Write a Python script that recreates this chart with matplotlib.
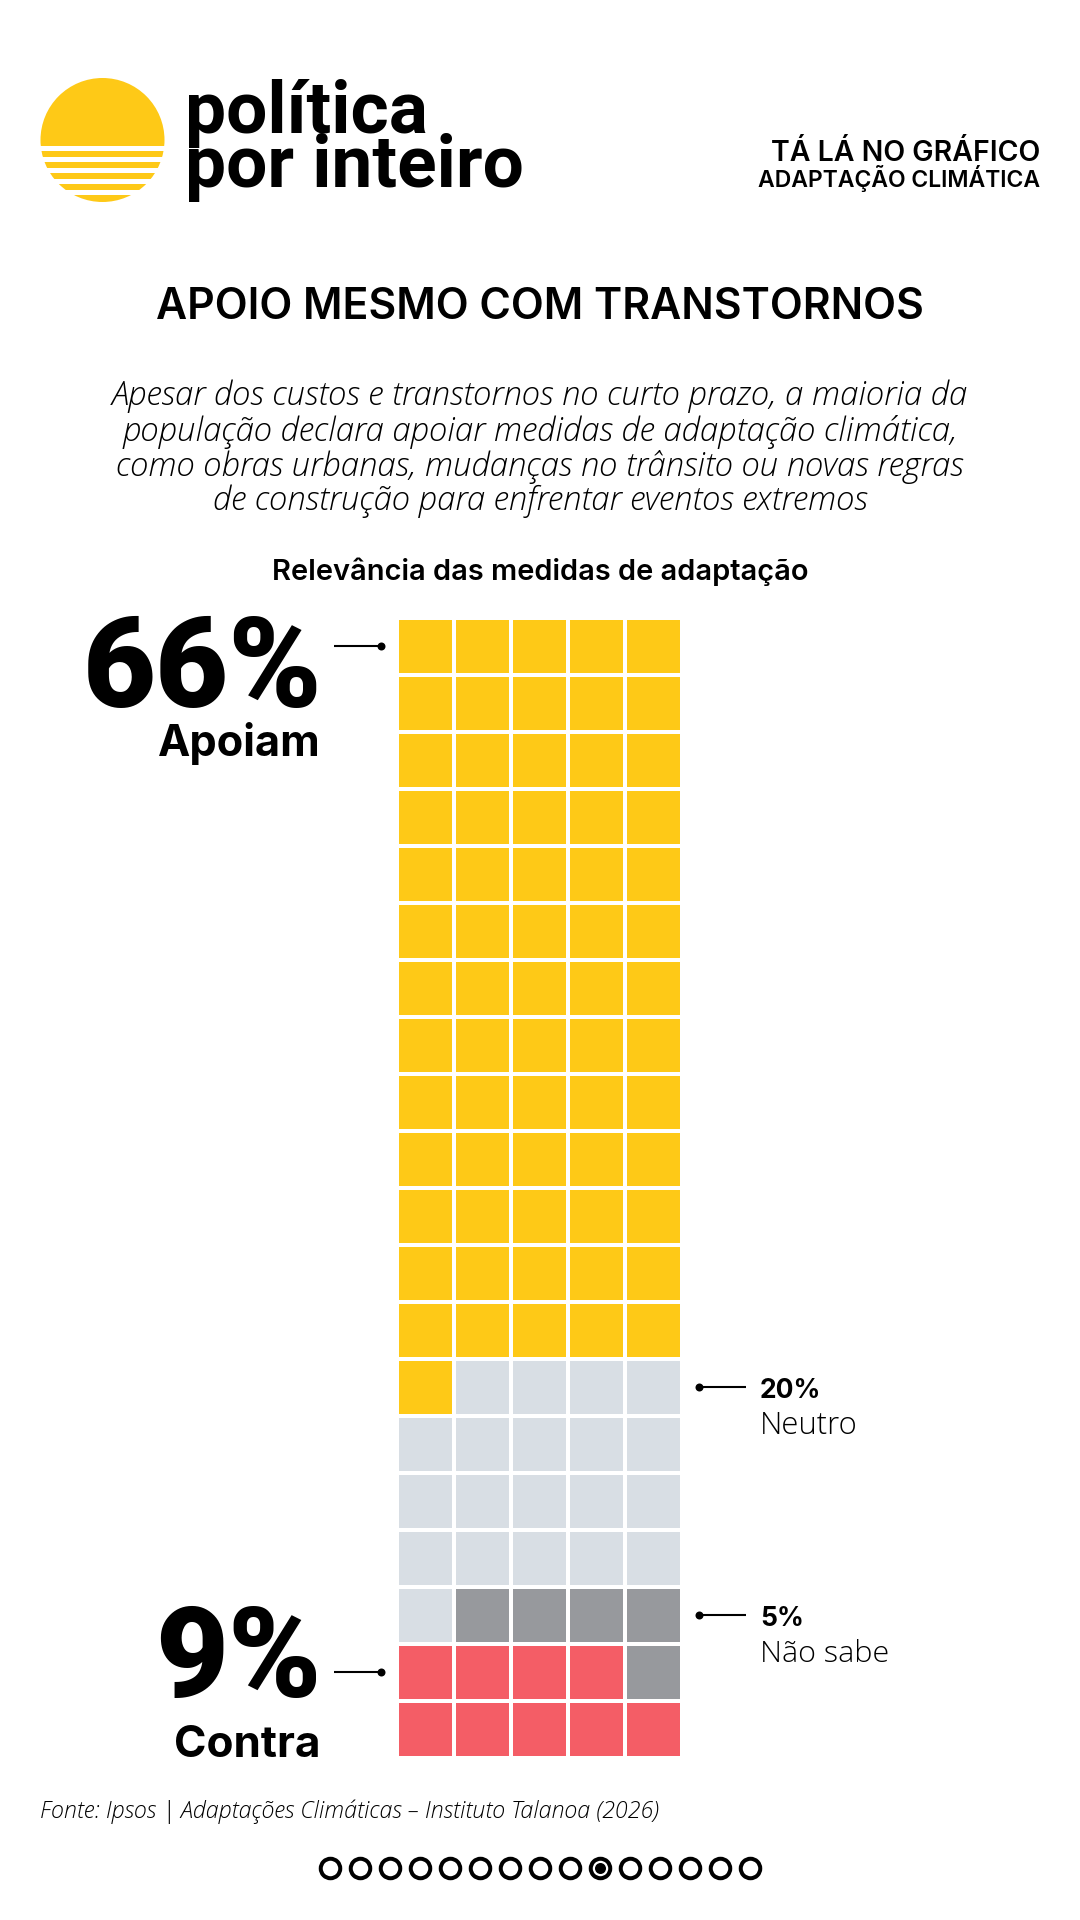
import matplotlib
matplotlib.use("Agg")
import matplotlib.pyplot as plt
from matplotlib.patches import Rectangle, Circle

# waffle data, 100 squares
categories = ["Apoiam", "Neutro", "Não sabe", "Contra"]
values = [66, 20, 5, 9]
colors = ["#FEC917", "#D8DEE4", "#97999D", "#F45D66"]
n_cols = 5
n_rows = 20

title = "APOIO MESMO COM TRANSTORNOS"
subtitle = ["Apesar dos custos e transtornos no curto prazo, a maioria da",
            "população declara apoiar medidas de adaptação climática,",
            "como obras urbanas, mudanças no trânsito ou novas regras",
            "de construção para enfrentar eventos extremos"]
chart_label = "Relevância das medidas de adaptação"
source = "Fonte: Ipsos | Adaptações Climáticas – Instituto Talanoa (2026)"
n_pages = 15
current_page = 9

W, H = 1080, 1920
pt = 0.72  # px to pt at dpi 100

fig = plt.figure(figsize=(W / 100, H / 100), dpi=100, facecolor="white")

# full page axes in pixel units, for the texts and logo
page = fig.add_axes([0, 0, 1, 1])
page.set_xlim(0, W)
page.set_ylim(H, 0)
page.axis("off")

# logo sun, cut at the horizon and striped below it
sun_x, sun_y, sun_r = 102.5, 140, 62
sun = Circle((sun_x, sun_y), sun_r, fc="none", ec="none")
page.add_patch(sun)
bands = [(70, 145.7), (150.7, 156.7), (161.7, 167.7), (172.7, 178.9), (183.9, 190), (195, 203)]
for top, bottom in bands:
    r = Rectangle((30, top), 150, bottom - top, fc=colors[0], ec="none")
    page.add_patch(r)
    r.set_clip_path(sun)

head = "Roboto"
page.text(185, 132.5, "política", family=head, weight="bold", size=73 * pt, color="black")
page.text(185, 187, "por inteiro", family=head, weight="bold", size=73 * pt, color="black")

page.text(1040, 161, "TÁ LÁ NO GRÁFICO", family="Inter", weight="semibold", size=28.5 * pt, ha="right", color="black")
page.text(1040, 187.5, "ADAPTAÇÃO CLIMÁTICA", family="Inter", weight="semibold", size=23 * pt, ha="right", color="black")

page.text(540, 319, title, family="Inter", weight="semibold", size=42.8 * pt, ha="center", color="black")

for line, y in zip(subtitle, [405, 441, 476, 510]):
    page.text(540, y, line, family="Open Sans", weight="light", style="italic", size=33 * pt, ha="center", color="black")

page.text(540, 579.5, chart_label, family="Inter", weight="semibold", size=29 * pt, ha="center", color="black")

# big labels on the left
big = "Roboto"
page.text(322, 707, f"{values[0]}%", family=big, weight="black", size=126 * pt, ha="right", color="black")
page.text(321, 756, categories[0], family="Inter", weight="bold", size=43.3 * pt, ha="right", color="black")
page.text(322, 1697, f"{values[3]}%", family=big, weight="black", size=126 * pt, ha="right", color="black")
page.text(320, 1757, categories[3], family="Inter", weight="bold", size=44 * pt, ha="right", color="black")

# small labels on the right
page.text(760, 1398, f"{values[1]}%", family="Inter", weight="bold", size=26.5 * pt, color="black")
page.text(760, 1433.5, categories[1], family="Open Sans", weight="light", size=31 * pt, color="black")
page.text(760, 1626, f"{values[2]}%", family="Inter", weight="bold", size=26.5 * pt, color="black")
page.text(760, 1661.5, categories[2], family="Open Sans", weight="light", size=30.5 * pt, color="black")

# leader lines
for x0, x1, y in [(334, 381, 646), (334, 381, 1672), (746, 699, 1387), (746, 699, 1615)]:
    page.plot([x0, x1], [y, y], color="black", lw=1.5, solid_capstyle="butt")
    page.plot([x1], [y], "o", color="black", ms=8 * pt, mew=0)

page.text(40, 1818, source, family="Open Sans", weight="light", style="italic", size=23.2 * pt, color="black")

# page dots
for i in range(n_pages):
    x = 330 + i * 30
    page.plot([x], [1867.7], "o", mfc="white", mec="black", mew=4 * pt, ms=19.5 * pt)
    if i == current_page:
        page.plot([x], [1867.7], "o", color="black", ms=11 * pt, mew=0)

# waffle axes, one unit per square
grid = fig.add_axes([399.3 / W, 1 - 1756 / H, (680.3 - 399.3) / W, (1756 - 620) / H])
gap = 4 / 57
grid.set_xlim(0, n_cols - gap)
grid.set_ylim(n_rows - gap, 0)
grid.axis("off")

cell_colors = []
for value, color in zip(values, colors):
    cell_colors += [color] * value
# the row shared by "Não sabe" and "Contra" has the red squares first
cell_colors[90:95] = cell_colors[90:95][::-1]

for i, color in enumerate(cell_colors):
    row, col = divmod(i, n_cols)
    grid.add_patch(Rectangle((col, row), 1 - gap, 1 - gap, fc=color, ec="none"))

fig.savefig("out.png", dpi=100)
